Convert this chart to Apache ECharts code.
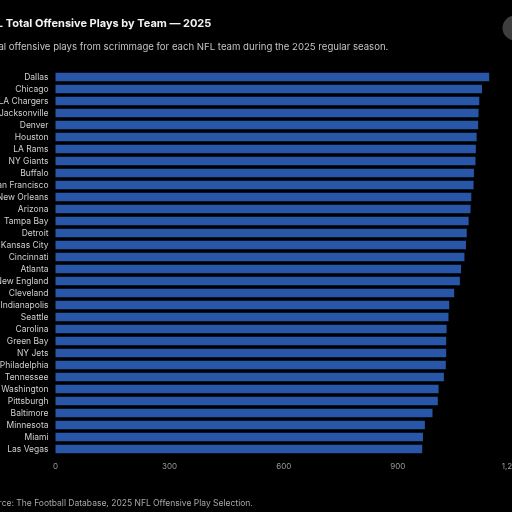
<!DOCTYPE html>
<html>
<head>
<meta charset="utf-8">
<script src="https://cdn.jsdelivr.net/npm/echarts@6/dist/echarts.min.js"></script>
<style>
html,body{margin:0;padding:0;background:#000;overflow:hidden;width:512px;height:512px;}
#c{position:absolute;left:-33px;top:0;width:580px;height:512px;}
</style>
</head>
<body>
<div id="c"></div>
<script>
const teams = ["Dallas","Chicago","LA Chargers","Jacksonville","Denver","Houston","LA Rams","NY Giants","Buffalo","San Francisco","New Orleans","Arizona","Tampa Bay","Detroit","Kansas City","Cincinnati","Atlanta","New England","Cleveland","Indianapolis","Seattle","Carolina","Green Bay","NY Jets","Philadelphia","Tennessee","Washington","Pittsburgh","Baltimore","Minnesota","Miami","Las Vegas"];
const plays = [1140,1121,1114,1112,1111,1107,1105,1104,1100,1099,1093,1091,1086,1081,1079,1075,1066,1063,1048,1035,1033,1028,1027,1027,1026,1021,1007,1005,991,971,966,964];
const xTicks = [0,300,600,900,1200];

const chart = echarts.init(document.getElementById('c'), null, {renderer:'canvas'});
const FONT = 'Inter, "Noto Sans", sans-serif';
chart.setOption({
  backgroundColor:'#000',
  animation:false,
  title:[
    {text:'NFL Total Offensive Plays by Team — 2025', left:10, top:13,
     textStyle:{color:'#f2f2f2', fontSize:11, fontWeight:'bold', fontFamily:FONT}},
    {text:'Total offensive plays from scrimmage for each NFL team during the 2025 regular season.', left:12, top:37,
     textStyle:{color:'#c4c4c4', fontSize:9.6, fontWeight:'normal', fontFamily:FONT}},
    {text:'Source: The Football Database, 2025 NFL Offensive Play Selection.', left:11, top:494,
     textStyle:{color:'#a8a8a8', fontSize:8.5, fontWeight:'normal', fontFamily:FONT}}
  ],
  graphic:[{type:'circle', shape:{cx:548, cy:28, r:12.5}, style:{fill:'#3e3e3e'}}],
  grid:{left:88.5, right:35, top:71, bottom:57, containLabel:false},
  xAxis:{type:'value', min:xTicks[0], max:xTicks[xTicks.length-1], interval:xTicks[1]-xTicks[0],
    axisLine:{show:false}, axisTick:{show:false}, splitLine:{show:false},
    axisLabel:{color:'#9a9a9a', fontSize:8, fontFamily:FONT, margin:8,
      formatter:v=>v.toLocaleString('en-US')}},
  yAxis:{type:'category', data:teams, inverse:true,
    axisLine:{show:false}, axisTick:{show:false},
    axisLabel:{color:'#cfcfcf', fontSize:8.5, fontFamily:FONT, margin:7}},
  series:[{type:'bar', data:plays, barCategoryGap:'30%',
    itemStyle:{color:'#2856a9'}}]
});
</script>
</body>
</html>
